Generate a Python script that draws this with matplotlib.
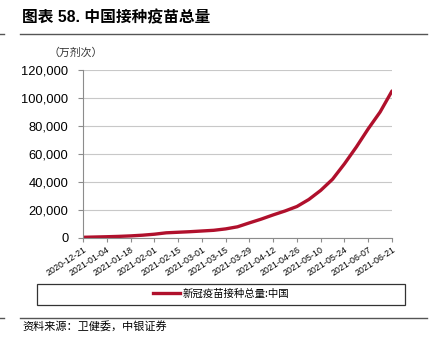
import numpy as np
import pandas as pd
import matplotlib
matplotlib.use('Agg')
import matplotlib.pyplot as plt
import matplotlib.dates as mdates
from matplotlib.lines import Line2D

plt.rcParams['font.family'] = ['Liberation Sans', 'Noto Sans CJK SC', 'DejaVu Sans']

# 新冠疫苗接种总量（万剂次），按周读取
fechas = pd.date_range('2020-12-21', '2021-06-21', freq='7D')
dosis = [500, 700, 900, 1150, 1500, 2000, 2700, 3700, 4100, 4500, 5000, 5500,
         6500, 8000, 10800, 13500, 16500, 19300, 22500, 27500, 34000, 42000,
         53000, 65000, 78000, 90000, 105000]
ticks_x = pd.date_range('2020-12-21', '2021-06-21', freq='14D')
ticks_y = [0, 20000, 40000, 60000, 80000, 100000, 120000]

titulo = '图表 58. 中国接种疫苗总量'
unidad = '（万剂次）'
serie = '新冠疫苗接种总量:中国'
fuente = '资料来源：卫健委，中银证券'

rojo = '#b0102c'
gris = '#8c8c8c'

fig = plt.figure(figsize=(4.36, 3.42), dpi=100)
W, H = 436, 342

ax = fig.add_axes([83 / W, 1 - 238 / H, (392 - 83) / W, (238 - 70) / H])
ax.plot(fechas, dosis, color=rojo, lw=2.4, solid_capstyle='round')

ax.set_xlim(fechas[0], pd.Timestamp('2021-06-21'))
ax.set_ylim(0, 120000)
ax.set_yticks(ticks_y)
ax.yaxis.set_major_formatter(matplotlib.ticker.FuncFormatter(lambda v, p: f'{int(v):,}'))
ax.set_xticks(ticks_x)
ax.xaxis.set_major_formatter(mdates.DateFormatter('%Y-%m-%d'))
plt.setp(ax.get_xticklabels(), rotation=33, ha='right', rotation_mode='anchor')
ax.tick_params(axis='x', labelsize=6.4, length=3, color=gris, pad=2)
ax.tick_params(axis='y', labelsize=9.3, length=3.5, color=gris, pad=7)
ax.grid(axis='y', color='#c8c8c8', lw=0.8)
ax.set_axisbelow(True)
for s in ['top', 'right']:
    ax.spines[s].set_visible(False)
for s in ['left', 'bottom']:
    ax.spines[s].set_color(gris)
    ax.spines[s].set_linewidth(0.8)

# titulo y lineas de separacion
fig.text(22 / W, 1 - 18 / H, titulo, fontsize=11.3, fontweight='bold', va='center',
         family=['Liberation Sans', 'Noto Sans CJK SC'])
fig.add_artist(Line2D([20 / W, 427 / W], [1 - 34 / H] * 2, color='#555555', lw=1))
fig.add_artist(Line2D([0, 4 / W], [1 - 34 / H] * 2, color='#555555', lw=1))
fig.add_artist(Line2D([20 / W, 427 / W], [1 - 318 / H] * 2, color='#555555', lw=1))
fig.add_artist(Line2D([0, 4 / W], [1 - 318 / H] * 2, color='#555555', lw=1))
fig.text(48 / W, 1 - 53 / H, unidad, fontsize=7.8, va='center', color='#333333',
         family=['Noto Sans CJK SC'])

# leyenda
leg = fig.legend([Line2D([], [], color=rojo, lw=2.4)], [serie],
                 loc='center', bbox_to_anchor=(221 / W, 1 - 294 / H),
                 frameon=True, fancybox=False, edgecolor='#333333',
                 prop={'family': 'Noto Sans CJK SC', 'size': 7.5},
                 handlelength=2.6, handletextpad=0.2, borderpad=0.5)
fig.add_artist(plt.Rectangle((37 / W, 1 - 305 / H), (405 - 37) / W, 21 / H,
                             transform=fig.transFigure, fill=False,
                             edgecolor='#333333', lw=0.9))
leg.get_frame().set_visible(False)

fig.text(22 / W, 1 - 327 / H, fuente, fontsize=8, va='center', style='italic',
         family=['Noto Sans CJK SC'])

fig.savefig('out.png', dpi=100)
